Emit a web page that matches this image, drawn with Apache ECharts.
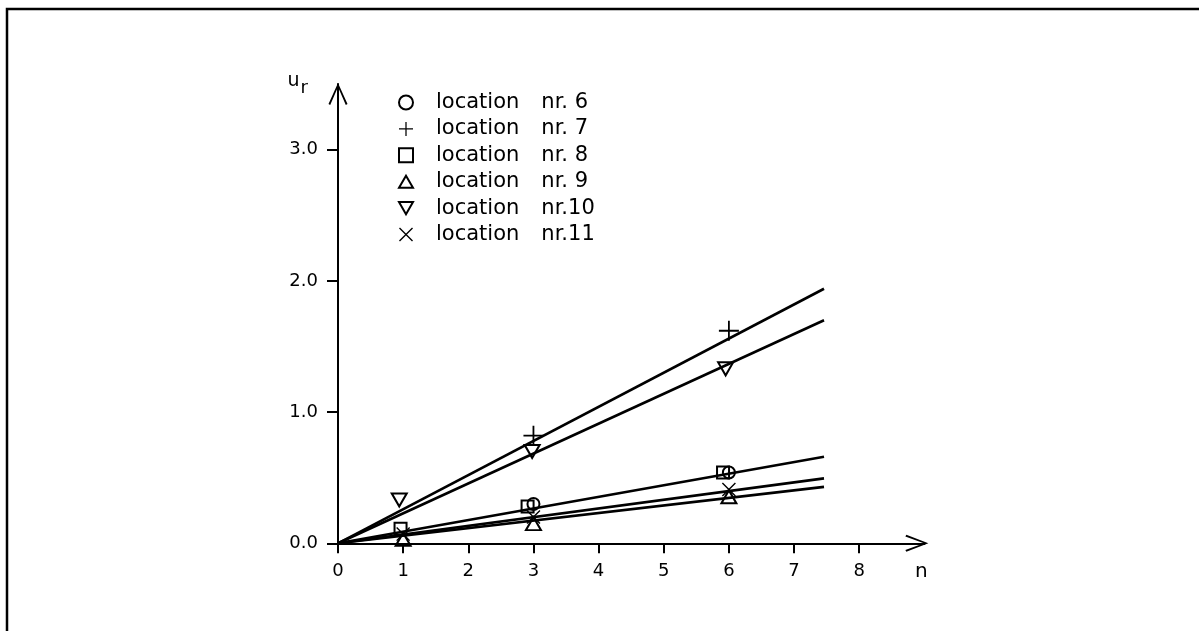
<!DOCTYPE html>
<html>
<head>
<meta charset="utf-8">
<script src="https://cdn.jsdelivr.net/npm/echarts@6/dist/echarts.min.js"></script>
<style>
html,body{margin:0;padding:0;background:#fff;}
#chart{width:1199px;height:631px;}
</style>
</head>
<body>
<div id="chart"></div>
<script>
// ---- data ----
const xTicks = [0, 1, 2, 3, 4, 5, 6, 7, 8];
const yTicks = [0, 1, 2, 3];
const seriesNames = ['location nr. 6', 'location nr. 7', 'location nr. 8', 'location nr. 9', 'location nr.10', 'location nr.11'];
const loc6 = [[3, 0.30], [6, 0.54]];
const loc7 = [[3, 0.82], [6, 1.62]];
const loc8 = [[0.96, 0.11], [2.91, 0.28], [5.91, 0.54]];
const loc9 = [[1, 0.03], [3, 0.15], [6, 0.355]];
const loc10 = [[0.94, 0.33], [2.98, 0.70], [5.95, 1.33]];
const loc11 = [[1, 0.07], [3, 0.20], [6, 0.41]];
const fitEndX = 7.46;
const fitEndY = [1.94, 1.70, 0.66, 0.495, 0.43];

const plusPath = 'path://M0,9.1H20V10.9H0Z M9.1,0H10.9V20H9.1Z';
const crossPath = 'path://M0,1.4L1.4,0L20,18.6L18.6,20Z M18.6,0L20,1.4L1.4,20L0,18.6Z';
const triUp = 'path://M7.5,0L15,13H0Z';
const triDown = 'path://M0,0H15L7.5,13Z';
const yArrow = 'path://M9.5,0L19,21L17.3,22L9.5,4L1.7,22L0,21Z';
const xArrow = 'path://M8.5,0L17,22L15.3,23L8.5,4.5L1.7,23L0,22Z';

const FONT = 'DejaVu Sans';
const openStyle = {color: 'rgba(255,255,255,0)', borderColor: '#000', borderWidth: 2, opacity: 1};
const solidStyle = {color: '#000', borderWidth: 0, opacity: 1};

const markerDefs = [
  {data: loc6, symbol: 'circle', size: 12, style: openStyle},
  {data: loc7, symbol: plusPath, size: 20, style: solidStyle},
  {data: loc8, symbol: 'rect', size: 12, style: openStyle},
  {data: loc9, symbol: triUp, size: [15, 13], style: openStyle},
  {data: loc10, symbol: triDown, size: [15, 13], style: openStyle},
  {data: loc11, symbol: crossPath, size: 14, style: solidStyle}
];

const series = [];
fitEndY.forEach(function (ye, i) {
  series.push({
    type: 'line', name: 'fit' + i, data: [[0, 0], [fitEndX, ye]],
    symbol: 'none', lineStyle: {color: '#000', width: 2.6}, z: 3, silent: true
  });
});
markerDefs.forEach(function (m, i) {
  series.push({
    type: 'scatter', name: seriesNames[i], data: m.data,
    symbol: m.symbol, symbolSize: m.size,
    itemStyle: m.style, z: 4
  });
});

const chart = echarts.init(document.getElementById('chart'), null, {renderer: 'canvas'});
chart.setOption({
  animation: false,
  backgroundColor: '#fff',
  textStyle: {fontFamily: FONT, color: '#000'},
  graphic: [{
    type: 'polyline', silent: true,
    shape: {points: [[7, 700], [7, 9], [1300, 9]]},
    style: {stroke: '#000', lineWidth: 2.5, fill: null}
  }],
  legend: {
    data: seriesNames, orient: 'vertical', left: 398, top: 92, padding: 0,
    itemWidth: 14, itemHeight: 14, itemGap: 5.4,
    selectedMode: false,
    formatter: function (name) {
      const k = name.indexOf('nr.');
      return '{a|' + name.slice(0, k).trim() + '}{b|' + name.slice(k) + '}';
    },
    textStyle: {
      fontFamily: FONT, fontSize: 21, color: '#000',
      rich: {
        a: {fontFamily: FONT, fontSize: 21, color: '#000', lineHeight: 20, padding: [0, 0, 0, 18]},
        b: {fontFamily: FONT, fontSize: 21, color: '#000', lineHeight: 20, padding: [0, 0, 0, 22]}
      }
    }
  },
  grid: {left: 338, right: 274.65, top: 84.1, bottom: 87.7, containLabel: false},
  xAxis: {
    type: 'value', min: 0, max: 9,
    name: 'n', nameLocation: 'end', nameGap: 0,
    nameTextStyle: {fontFamily: FONT, fontSize: 20, color: '#000', align: 'center', verticalAlign: 'top', padding: [18, 6, 0, 0]},
    axisLine: {show: true, onZero: false, lineStyle: {color: '#000', width: 2},
      symbol: ['none', xArrow], symbolSize: [17, 23], symbolOffset: [0, -7.5]},
    axisTick: {show: true, length: 10, lineStyle: {color: '#000', width: 2}, customValues: xTicks},
    axisLabel: {fontFamily: FONT, fontSize: 18, color: '#000', margin: 19, customValues: xTicks},
    splitLine: {show: false}
  },
  yAxis: {
    type: 'value', min: 0, max: 3.5,
    name: '{u|u}{r|r}', nameLocation: 'end', nameGap: 0,
    nameTextStyle: {
      align: 'right', verticalAlign: 'middle', padding: [0, 30, 0, 0],
      rich: {
        u: {fontFamily: FONT, fontSize: 19, color: '#000', lineHeight: 26, verticalAlign: 'top'},
        r: {fontFamily: FONT, fontSize: 18, color: '#000', lineHeight: 26, verticalAlign: 'bottom', padding: [0, 0, 0, 1]}
      }
    },
    axisLine: {show: true, onZero: false, lineStyle: {color: '#000', width: 2},
      symbol: ['none', yArrow], symbolSize: [19, 22], symbolOffset: [0, -10]},
    axisTick: {show: true, length: 11, lineStyle: {color: '#000', width: 2}, customValues: yTicks},
    axisLabel: {fontFamily: FONT, fontSize: 18, color: '#000', margin: 20, customValues: yTicks,
      formatter: function (v) { return v.toFixed(1); }},
    splitLine: {show: false}
  },
  series: series
});
</script>
</body>
</html>
